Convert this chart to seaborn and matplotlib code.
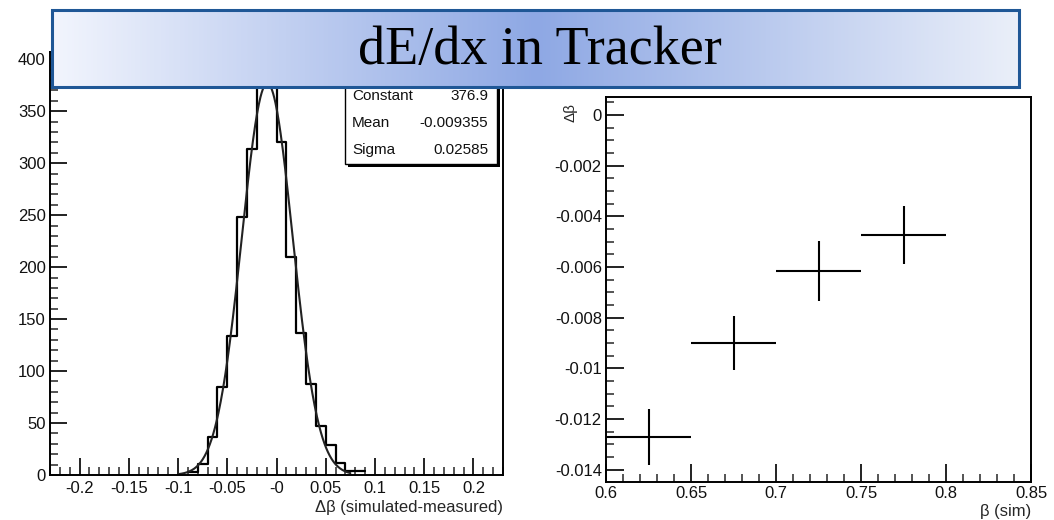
import numpy as np
import pandas as pd
import matplotlib
matplotlib.use("Agg")
import matplotlib.pyplot as plt
from matplotlib.patches import Rectangle
from matplotlib.ticker import MultipleLocator
from matplotlib.colors import LinearSegmentedColormap
import seaborn as sns

# ---------------- data ----------------
# Δβ = simulated - measured, histogram with bins of width 0.01 (lower edges)
bin_lo = [-0.09, -0.08, -0.07, -0.06, -0.05, -0.04, -0.03, -0.02, -0.01,
          0.00, 0.01, 0.02, 0.03, 0.04, 0.05, 0.06, 0.07, 0.08]
counts = [3, 11, 37, 85, 134, 248, 314, 385, 388,
          320, 210, 137, 88, 47, 29, 12, 4, 4]
bin_width = 0.01

# Gaussian fit parameters (stats box)
fit_names = ["Constant", "Mean", "Sigma"]
fit_values = ["376.9", "-0.009355", "0.02585"]
fit_constant = 376.9
fit_mean = -0.009355
fit_sigma = 0.02585
fit_lo, fit_hi = -0.10, 0.075

hist_xticks = [-0.2, -0.15, -0.1, -0.05, 0.0, 0.05, 0.1, 0.15, 0.2]
hist_xticklabels = ["-0.2", "-0.15", "-0.1", "-0.05", "-0", "0.05", "0.1", "0.15", "0.2"]
hist_yticks = [0, 50, 100, 150, 200, 250, 300, 350, 400]

# Profile: mean Δβ versus simulated β
beta_sim = [0.625, 0.675, 0.725, 0.775]
beta_halfwidth = [0.025, 0.025, 0.025, 0.025]
dbeta_mean = [-0.0127, -0.0090, -0.00616, -0.00474]
dbeta_err = [0.0011, 0.00105, 0.00117, 0.00114]

prof_xticks = [0.6, 0.65, 0.7, 0.75, 0.8, 0.85]
prof_xticklabels = ["0.6", "0.65", "0.7", "0.75", "0.8", "0.85"]
prof_yticks = [0.0, -0.002, -0.004, -0.006, -0.008, -0.010, -0.012, -0.014]
prof_yticklabels = ["0", "-0.002", "-0.004", "-0.006", "-0.008", "-0.01", "-0.012", "-0.014"]

title_text = "dE/dx in Tracker"

# ---------------- style ----------------
sns.set_style("ticks")
plt.rcParams["font.family"] = ["Liberation Sans", "DejaVu Sans"]
plt.rcParams["axes.linewidth"] = 1.3
plt.rcParams["text.color"] = "#111111"

W, H = 1054, 520
fig = plt.figure(figsize=(W / 100, H / 100), dpi=100)
fig.patch.set_facecolor("white")


def px_axes(x0, y0, x1, y1):
    """Axes rectangle from pixel corners (top-left origin)."""
    return fig.add_axes([x0 / W, 1 - y1 / H, (x1 - x0) / W, (y1 - y0) / H])


def root_ticks(ax, major_len=12, minor_len=6):
    ax.tick_params(which="major", direction="in", length=major_len, width=1.3,
                   labelsize=12, colors="#111111", top=False, right=False)
    ax.tick_params(which="minor", direction="in", length=minor_len, width=1.1,
                   top=False, right=False)
    for s in ax.spines.values():
        s.set_visible(True)
        s.set_color("black")
        s.set_linewidth(1.4)


# ---------------- left: histogram ----------------
ax1 = px_axes(50, 52, 503, 475)
edges = [round(b, 4) for b in bin_lo] + [round(bin_lo[-1] + bin_width, 4)]
centers = [b + bin_width / 2 for b in bin_lo]
hist_df = pd.DataFrame({"dbeta": centers, "n": counts})
sns.histplot(data=hist_df, x="dbeta", weights="n", bins=edges, element="step",
             fill=False, color="black", linewidth=1.6, ax=ax1)

xs = np.linspace(fit_lo, fit_hi, 300)
fit_df = pd.DataFrame({"x": xs,
                       "y": fit_constant * np.exp(-0.5 * ((xs - fit_mean) / fit_sigma) ** 2)})
sns.lineplot(data=fit_df, x="x", y="y", color="#222222", linewidth=1.5, ax=ax1)

ax1.set_xlim(-0.23, 0.23)
ax1.set_ylim(0, 407)
ax1.set_xticks(hist_xticks, labels=hist_xticklabels)
ax1.set_yticks(hist_yticks)
ax1.xaxis.set_minor_locator(MultipleLocator(0.01))
ax1.yaxis.set_minor_locator(MultipleLocator(10))
root_ticks(ax1, major_len=12, minor_len=6)
ax1.tick_params(axis="x", pad=4)
ax1.tick_params(axis="y", pad=3)
ax1.set_ylabel("")
ax1.set_xlabel("Δβ (simulated-measured)", loc="right", fontsize=12)
ax1.xaxis.set_label_coords(1.0, -0.059)

# ---------------- right: profile ----------------
ax2 = px_axes(606, 97, 1031, 482)
ax2.errorbar(beta_sim, dbeta_mean, xerr=beta_halfwidth, yerr=dbeta_err,
             fmt="none", ecolor="black", elinewidth=1.5, capsize=0)
ax2.set_xlim(0.6, 0.85)
ax2.set_ylim(-0.01449, 0.00071)
ax2.set_xticks(prof_xticks, labels=prof_xticklabels)
ax2.set_yticks(prof_yticks, labels=prof_yticklabels)
ax2.xaxis.set_minor_locator(MultipleLocator(0.01))
ax2.yaxis.set_minor_locator(MultipleLocator(0.0005))
root_ticks(ax2, major_len=13, minor_len=6)
ax2.tick_params(axis="x", pad=3)
ax2.tick_params(axis="y", pad=3)
ax2.set_xlabel("β (sim)", loc="right", fontsize=12)
ax2.xaxis.set_label_coords(1.0, -0.056)
ax2.set_ylabel("Δβ", loc="top", fontsize=11)
ax2.yaxis.set_label_coords(-0.068, 0.984)

# ---------------- overlay: stats box and banner ----------------
ov = fig.add_axes([0, 0, 1, 1], zorder=10)
ov.patch.set_alpha(0)
ov.axis("off")

# stats box with drop shadow
ov.add_patch(Rectangle((348, 60), 152, 107, facecolor="black", edgecolor="none", zorder=1))
ov.add_patch(Rectangle((345, 57), 152, 107, facecolor="white", edgecolor="black",
                       linewidth=1.0, zorder=2))
for i, (name, val) in enumerate(zip(fit_names, fit_values)):
    y = 96 + i * 27
    ov.text(352, y, name, ha="left", va="center", fontsize=11, color="#111111", zorder=3)
    ov.text(488, y, val, ha="right", va="center", fontsize=11, color="#111111", zorder=3)

# title banner with a horizontal blue gradient
grad_cmap = LinearSegmentedColormap.from_list(
    "banner", [(0.0, "#f2f5fd"), (0.5, "#8ea8e4"), (1.0, "#eaeff9")])
grad = np.linspace(0, 1, 512).reshape(1, -1)
ov.imshow(grad, cmap=grad_cmap, extent=(52, 1019, 87, 10), aspect="auto",
          interpolation="bilinear", zorder=4)
ov.add_patch(Rectangle((52, 10), 967, 77, fill=False, edgecolor="#1f5796",
                       linewidth=2.2, zorder=5))
ov.text(540, 64, title_text, ha="center", va="baseline", fontsize=39,
        family=["Liberation Serif", "DejaVu Serif"], color="black", zorder=6)

ov.set_xlim(0, W)
ov.set_ylim(H, 0)

fig.savefig("out.png", dpi=100)
